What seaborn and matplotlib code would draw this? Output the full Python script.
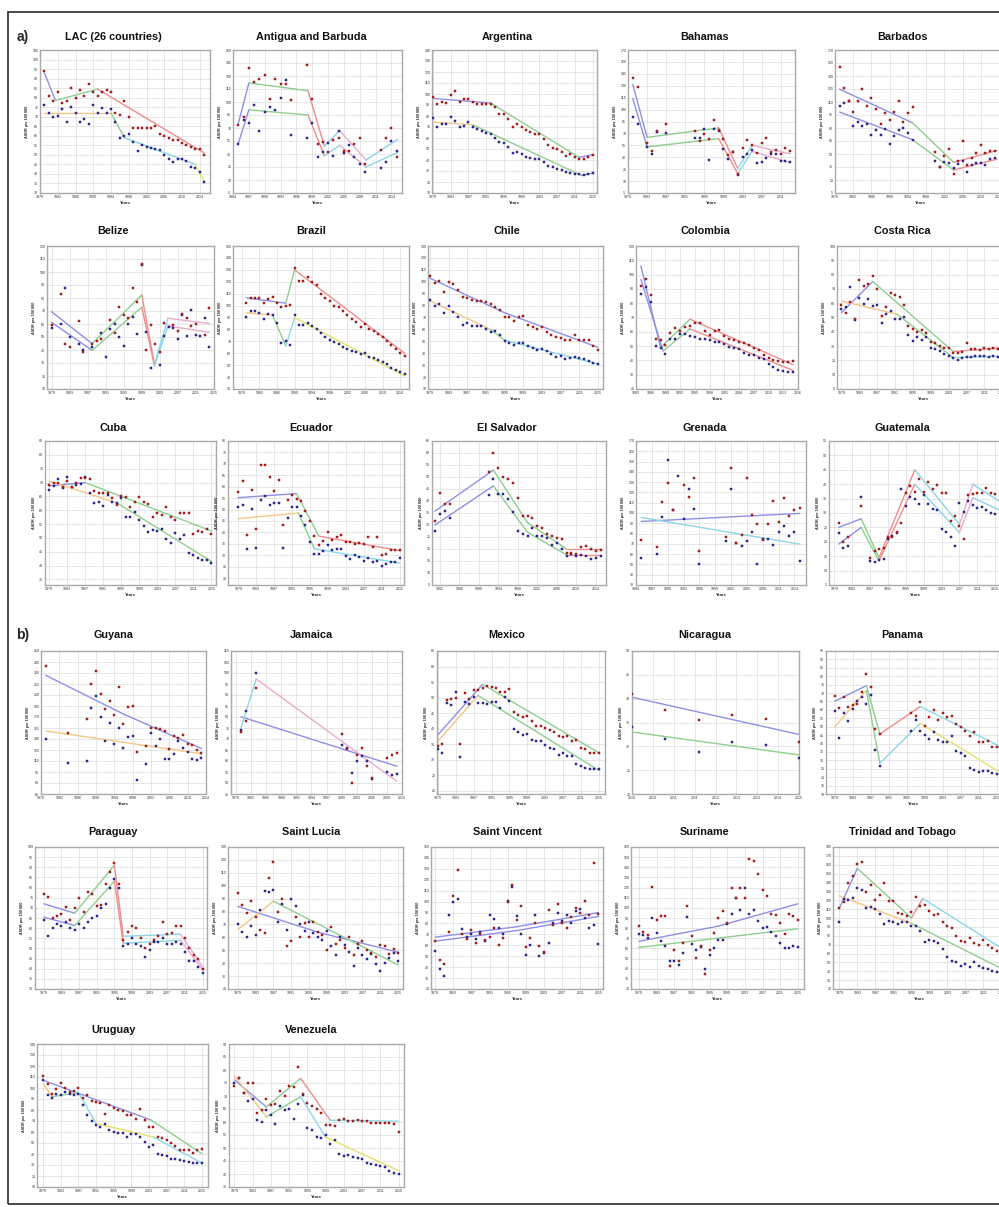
import numpy as np
import matplotlib
matplotlib.use("Agg")
import matplotlib.pyplot as plt
import seaborn as sns
from matplotlib.patches import Rectangle

sns.set_theme(style="whitegrid")
plt.rcParams['font.family'] = ['Liberation Sans', 'DejaVu Sans']

# joinpoint segment colours and point colours
SEG = {'b': '#8f8fe6', 'g': '#8dcf8d', 'r': '#f08c8c', 'c': '#8bd6e8',
       'p': '#e9abcd', 'o': '#f5c585', 'y': '#e6e06a'}
RED_PT, RED_EDGE = '#d01f1c', '#760d0d'
BLUE_PT, BLUE_EDGE = '#3a31b3', '#1b146c'

Y79 = list(range(1979, 2016))

# ---------------- a) ----------------
lac_m = [94, 81, 78, 83, 77, 78, 85, 80, 84, 81, 87, 83, 81, 83, 84, 83, 72, 71, 78, 70,
         64, 64, 64, 64, 64, 65, 61, 60, 59, 58, 58, 56, 55, 54, 53, 53, 50]
lac_f = [76, 72, 70, 70.5, 74, 67.5, 75, 72, 67, 69, 66, 76, 72, 74.5, 72, 74, 67, 59, 60, 61,
         57, 52, 55, 54, 53.5, 53, 52.5, 50, 48, 46, 48, 48, 47, 43.5, 43, 41, 36]
lac_m_fit = [(1979, 93), (1981.5, 78.5), (1991, 84.5), (2015, 51)]
lac_f_fit = [(1979, 72), (1994, 72), (1997, 59), (2013, 45), (2015, 36)]

ant_yr = [1985, 1986, 1987, 1988, 1989, 1990, 1991, 1992, 1993, 1994, 1995, 1998, 1999, 2000,
          2001, 2002, 2003, 2004, 2005, 2006, 2007, 2008, 2009, 2012, 2013, 2014, 2015]
ant_m = [74, 83, 139, 123, 126, 131, 103, 126, 121, 121, 102, 143, 103, 52, 54, 42, 56, 59, 43,
         43, 51, 59, 28, 45, 58, 70, 36]
ant_f = [51, 79, 76, 97, 67, 88, 94, 91, 105, 125, 62, 59, 76, 36, 42, 53, 38, 67, 41, 50, 36,
         28, 19, 24, 31, 55, 43]
ant_m_fit = [(1985, 75), (1987, 122), (1998.2, 113), (2001.3, 49), (2004.2, 67), (2009.2, 33), (2015.2, 57)]
ant_f_fit = [(1985, 52), (1987, 91), (1998.2, 85), (2001.3, 38), (2004.2, 50), (2009.2, 25), (2015.2, 42)]

arg_m = [97.6, 90.9, 92.7, 91.5, 98.8, 103, 92.4, 95.8, 95.5, 92.4, 91.2, 91.2, 90.9, 90.6, 88.2,
         81.8, 81.8, 77.3, 70.3, 72.7, 70.3, 67, 65.2, 63.6, 63.6, 58.8, 53.6, 50.6, 49.7, 47,
         43.9, 45.5, 42.4, 41.2, 41.2, 42.4, 44.8]
arg_f = [77.9, 69.7, 73, 72.7, 78.8, 75.2, 70.3, 70.9, 74.5, 69.7, 67.9, 66.7, 64.2, 63.3, 59.7,
         56.1, 55.5, 51.5, 46.4, 47, 45.2, 43, 42.1, 40.6, 40.6, 38.2, 34.8, 33.6, 31.8, 30.6,
         29.4, 28.5, 27.3, 27, 26.4, 27.6, 27.9]
arg_m_fit = [(1979, 96), (1992, 91.8), (2012, 42.4), (2015, 44.8)]
arg_f_fit = [(1979, 74.5), (1988, 72), (2012.5, 26), (2015, 28)]

bah_yr = [1980, 1981, 1983, 1984, 1985, 1987, 1993, 1994, 1995, 1996, 1997, 1998, 1999, 2000,
          2001, 2002, 2003, 2004, 2005, 2006, 2007, 2008, 2009, 2010, 2011, 2012, 2013]
bah_m = [139.7, 128, 57.4, 48, 73, 82, 72.6, 60, 68.8, 63, 86.6, 74, 63, 42.3, 46.5, 19, 52,
         61.2, 55.3, 44.8, 58.3, 64.2, 46.5, 48.6, 44.4, 52, 47.3]
bah_f = [91.2, 81.5, 52.8, 44, 72, 70, 64.6, 64.2, 76, 36.8, 75.6, 73, 50.7, 37.6, 46, 18.2,
         39.7, 44.4, 49.4, 32.6, 33.8, 39.3, 44.4, 44.4, 34.7, 35.5, 33.8]
bah_m_fit = [(1980, 131.7), (1983, 65), (1998, 77), (2002, 25.8), (2005, 55), (2013, 44.4)]
bah_f_fit = [(1980, 114), (1983, 53), (1998, 63.4), (2002, 19.5), (2005, 47.3), (2013, 33.4)]

bar_yr = list(range(1979, 1996)) + list(range(2000, 2014))
bar_m = [150, 125.6, 111, 99, 111, 124.8, 105.4, 115, 101.5, 85, 96.8, 89, 98.8, 111, 87.5, 97.6,
         104.6, 52.5, 35.4, 47.8, 56, 27.2, 42.4, 64.5, 37.3, 45, 51, 60, 51.7, 53.6, 54]
bar_f = [105.4, 109.3, 111.6, 82, 87, 82, 85, 71.5, 77.4, 71.5, 78.5, 61.8, 71, 77.4, 80, 74.6,
         66.5, 42, 35.4, 40.4, 40, 33.4, 38, 42, 29.5, 37, 40, 40, 37.7, 44, 45]
bar_m_fit = [(1979, 124.8), (1995, 86), (2004, 40.4), (2013.5, 54)]
bar_f_fit = [(1979, 98.4), (1995, 66.5), (2004, 31.5), (2013.5, 44)]

bel_m_yr = [1979, 1981, 1982, 1983, 1985, 1986, 1988, 1989, 1990, 1992, 1993, 1994, 1995, 1996,
            1997, 1998, 1999, 2000, 2001, 2002, 2003, 2004, 2006, 2007, 2008, 2009, 2010, 2011,
            2013, 2014]
bel_m = [59, 82.8, 44.4, 42, 62, 38.7, 45, 47, 48.5, 62.8, 53.1, 72.8, 66.9, 64.9, 88, 76.9,
         106.4, 40, 59.2, 44.9, 38.7, 60.8, 59, 54.9, 67.4, 64.4, 58.2, 60, 51.5, 72]
bel_f_yr = [1979, 1981, 1982, 1983, 1985, 1986, 1988, 1990, 1991, 1992, 1993, 1994, 1995, 1996,
            1997, 1998, 1999, 2000, 2001, 2003, 2004, 2005, 2006, 2007, 2008, 2009, 2010, 2011,
            2012, 2013, 2014]
bel_f = [57.2, 60.3, 87.7, 50, 44.9, 39.7, 42, 53.3, 34.4, 56.4, 59.7, 50.3, 43.3, 60.3, 65.6,
         52, 105.4, 53.8, 26.2, 28.2, 50.5, 58, 57.2, 48.7, 67, 50.8, 70.5, 51.5, 50.8, 64.9, 42.6]
bel_m_fit = [(1979, 69.5), (1988, 44.9), (1999, 82.3), (2001.8, 29), (2004.8, 64.4), (2014, 60.3)]
bel_f_fit = [(1979, 61.3), (1988, 39.7), (1999, 73), (2001.8, 27.7), (2004.8, 58.5), (2014, 53.6)]

bra_m = [101.8, 106.6, 106.6, 106.6, 102.1, 105.8, 107.2, 102, 98.7, 100, 100.4, 131.7, 120.7,
         121, 123.8, 119.6, 117, 109.7, 106.3, 104, 99.6, 98.5, 95.6, 91.7, 88.9, 86.6, 82.4,
         84.4, 80.7, 79, 75.9, 74, 70.6, 66.9, 63.2, 59.9, 57.9]
bra_f = [90.6, 95.6, 95.6, 93.7, 88.6, 92.8, 92.3, 85.8, 68.3, 70.3, 66.9, 92.3, 84, 84, 85.8,
         83.2, 80.4, 76.8, 74, 71.1, 69.4, 67.7, 65.5, 63.5, 62.1, 61.3, 59, 59.9, 57, 55.6,
         54.5, 52.8, 50.8, 48, 45.8, 44.4, 42.4]
bra_m_fit = [(1979, 106.5), (1988, 102), (1990, 130), (2015, 60)]
bra_f_fit = [(1979, 94), (1985, 92), (1988, 66), (1990, 90), (2015, 41)]

chi_m = [105, 99, 101, 91, 100, 98, 93, 87, 86, 85, 84, 84, 83, 81, 79, 76, 70, 70, 67, 70.5,
         71.6, 64, 62, 60.6, 62, 57.5, 55, 53.4, 53, 51.5, 51.5, 55, 51, 50.7, 50.7, 46, 43]
chi_f = [85, 80, 81, 74, 80, 75, 70.5, 64, 65.5, 63, 62.5, 63, 60, 58, 58.4, 55, 50, 49, 47,
         48.5, 48.5, 45.7, 44, 42.7, 43.8, 41.6, 39.6, 37.2, 38, 35.2, 36.1, 37.2, 35.8, 35,
         33.6, 31.4, 30.6]
chi_m_fit = [(1979, 103), (1995, 74), (2015, 45)]
chi_f_fit = [(1979, 84), (1992, 60), (1995, 51), (2015, 31)]

col_yr = list(range(1984, 2016))
col_m = [92, 97, 86, 55, 54, 50.7, 59.5, 62.8, 60.7, 63.3, 64.2, 66, 66, 60.7, 58, 60.9, 61.4,
         57.2, 54.9, 54.4, 52.6, 51.9, 51, 48.7, 47, 43.7, 41.6, 40.2, 39.3, 39, 38.6, 39.3]
col_f = [86.3, 91.6, 80.5, 50.2, 48.6, 44.2, 55.3, 55.3, 58.7, 58.2, 56.8, 56.1, 55.2, 54.7, 54,
         52.6, 52.9, 51.7, 49.4, 49, 48.2, 45.2, 44, 44, 41.7, 41.3, 37.5, 35.4, 33.1, 32.4, 32, 32]
col_m_fit = [(1984, 106), (1988, 49), (1994, 68.8), (2015, 37)]
col_f_fit = [(1984, 96.7), (1988.5, 46.5), (1994, 62), (2015, 33)]

cri_m = [59, 53, 61, 49, 76, 72, 73.5, 79, 70, 51, 57, 67, 65.5, 64.5, 59, 44, 42, 40, 41.5, 39,
         33, 32, 30, 29, 28.5, 25.5, 25.5, 26, 32, 28, 28, 27, 28.5, 28, 29, 28, 28]
cri_f = [55.8, 57.4, 71.2, 48.5, 63.4, 59.3, 63.1, 57.9, 58.6, 46.3, 52.7, 54.4, 49.2, 48.7,
         50.1, 38, 33.8, 36.2, 34.5, 36.2, 28.6, 27.9, 26.7, 24.4, 23.2, 21.5, 20.3, 22, 22.5,
         22.7, 23.4, 23.2, 22.9, 22.5, 23, 22.5, 22]
cri_m_fit = [(1979, 53.4), (1986, 75.2), (2004, 26.2), (2016, 29)]
cri_f_fit = [(1979, 61.5), (1991.5, 52.2), (2004, 22), (2016, 23)]

cub_m = [69.1, 69.7, 69.7, 68.5, 70.5, 68.3, 70, 71.7, 71.5, 71.1, 66.9, 66.1, 66.3, 66.3, 64.3,
         61.9, 65.1, 64.9, 61, 62.8, 64.9, 63, 62.2, 57.5, 59, 58.1, 61.3, 57.5, 56.3, 58.9,
         58.9, 58.9, 51.3, 52.6, 52.3, 53.1, 51.4]
cub_f = [67.3, 68.7, 71.1, 67.9, 72.1, 68.5, 69.1, 69.3, 72.1, 66.1, 62.5, 63.1, 61.5, 65.5,
         63.1, 62.7, 64.3, 57.6, 57.6, 59.5, 56.4, 54.3, 52, 52.8, 52.6, 53.4, 49.5, 48, 51.6,
         49.5, 51, 44.4, 43.8, 42.6, 42.2, 42, 41]
cub_m_fit = [(1979, 68.8), (1987, 70), (2015, 52.5)]
cub_f_fit = [(1979, 70.5), (1994, 62.7), (2015, 41.5)]

ecu_m = [57.7, 62.3, 39, 58.4, 41.6, 69.3, 69.6, 64.2, 58.1, 63.1, 43.4, 54.3, 56.2, 54.7, 53.6,
         49.2, 45, 38.4, 34.3, 36.2, 40.4, 36.9, 38.1, 39, 35.8, 35.8, 35, 35.3, 35, 37.9, 33.6,
         37.9, 30.2, 30.7, 32.1, 32.1, 32.4]
ecu_f = [51.1, 51.8, 32.8, 50.4, 33.3, 54, 56.1, 52.1, 52.8, 53, 33.1, 46.3, 51.1, 51.1, 47.3,
         43.4, 35.8, 30.7, 30.7, 31.8, 34.3, 32.1, 32.6, 32.6, 29.8, 28.5, 30.2, 29.2, 27.4,
         28.9, 26.9, 27.7, 25.5, 26.3, 27, 27, 28.8]
ecu_m_fit = [(1979, 55.2), (1992, 57), (1997, 38.4), (2015, 32)]
ecu_f_fit = [(1979, 46), (1992.4, 48.5), (1996, 32.8), (2015, 26.6)]

slv_yr = [1981, 1982, 1983, 1984] + list(range(1992, 2016))
slv_m = [31.7, 43.5, 38.6, 38.9, 52.2, 59.9, 53.9, 50, 49, 47.6, 41.4, 33.6, 33.6, 32.9, 29.6,
         28.6, 26.1, 25.4, 24.6, 24.3, 18.5, 18.2, 17.8, 20.9, 21.3, 19.9, 19.2, 19.4]
slv_f = [27.5, 34.4, 35.8, 32.8, 42.4, 49, 42.8, 42.8, 41, 35.4, 27.5, 26.1, 25.4, 28.9, 25.4,
         25.4, 24.7, 21.5, 22.4, 19.9, 17.1, 17.8, 17.1, 17.4, 17.1, 15.7, 16.4, 17.1]
slv_m_fit = [(1981, 35.8), (1993, 52.9), (2000, 31), (2008, 20), (2015, 20)]
slv_f_fit = [(1981, 30), (1993, 46.3), (2000, 27), (2008, 17.5), (2015, 17.5)]

grd_m_yr = [1985, 1988, 1989, 1990, 1991, 1993, 1994, 1995, 1996, 2001, 2002, 2003, 2004, 2005,
            2006, 2007, 2008, 2009, 2010, 2011, 2012, 2013, 2014, 2015]
grd_m = [73.6, 67.1, 111, 129.3, 102.9, 127.7, 115.9, 134.2, 63.2, 76.2, 144, 71.3, 78.8, 134.2,
         98.3, 89.2, 73.6, 89.2, 112, 90.8, 114.6, 96.7, 103.2, 104.9]
grd_f_yr = [1985, 1988, 1989, 1990, 1991, 1992, 1993, 1994, 1995, 1996, 2001, 2002, 2003, 2004,
            2005, 2006, 2007, 2008, 2009, 2010, 2011, 2012, 2013, 2014, 2015]
grd_f = [56.6, 60.6, 95.7, 151.1, 102.9, 135.5, 94.1, 123.4, 103.9, 50.8, 72.3, 123.4, 71.3, 68,
         72.9, 81.7, 50.1, 74.6, 74.6, 69, 82, 87.3, 77.5, 81.1, 53.4]
grd_m_fit = [(1985, 91.8), (2015, 99.6)]
grd_f_fit = [(1985, 95.7), (2015, 69.7)]

gua_yr = [1980, 1981, 1982, 1985] + list(range(1987, 2016))
gua_m = [26.4, 20, 21.8, 32.5, 14.5, 16.8, 17.4, 17.7, 21.5, 21.5, 23.4, 26.4, 37.1, 39.4, 37.3,
         41.7, 37.3, 40.8, 38.2, 39.6, 36.9, 36.9, 27.3, 29, 25.5, 21.1, 36.2, 36.7, 37.1, 36.9,
         38.8, 37, 36.5]
gua_f = [22.9, 17.7, 18.6, 35.6, 13.4, 13, 13.7, 14, 21.1, 22, 22.9, 38.2, 32.5, 35.7, 34.8, 33,
         36.2, 33.2, 31.3, 31.1, 24.6, 23.4, 21.5, 18.6, 33.4, 30.5, 34.2, 32.7, 31.9, 32, 31,
         30, 29.5]
gua_m_fit = [(1980, 25), (1985, 28), (1989, 14.5), (1997, 45), (2007, 26), (2010, 40), (2016, 34)]
gua_f_fit = [(1980, 19.2), (1985, 25), (1989, 13.4), (1997, 40), (2007, 23.2), (2010, 35.3), (2016, 31)]

# ---------------- b) ----------------
guy_yr = [1979, 1984, 1988, 1989, 1990, 1991, 1992, 1993, 1994, 1995, 1996, 1997, 1998, 1999,
          2001, 2002, 2003, 2004, 2005, 2006, 2007, 2008, 2009, 2010, 2011, 2012, 2013]
guy_m = [240, 148.6, 166.8, 214.5, 232.3, 201.4, 181.4, 192.3, 173.2, 210.9, 160.9, 183.6, 184.5,
         121.8, 130.9, 155.5, 155.5, 154.1, 150.9, 125.9, 143.6, 140.9, 145, 132.7, 131.4, 125.5, 121]
guy_f = [139.5, 107.3, 110.5, 182.3, 198.6, 170.5, 136.8, 162.3, 133.2, 155, 127.7, 142.3, 144.1,
         84.5, 105.5, 147.7, 130.5, 140.5, 113.2, 112.3, 120, 137.3, 127.7, 122.7, 112.3, 110.9, 114.5]
guy_m_fit = [(1979, 227), (1996, 174), (2013, 127)]
guy_f_fit = [(1979, 151), (2013, 120)]

jam_yr = [1980, 1981, 1983, 2000, 2001, 2002, 2003, 2004, 2005, 2006, 2009, 2010, 2011]
jam_m = [73.2, 78.1, 93, 72.2, 65.3, 50, 62.8, 65.9, 57.9, 52.3, 61.5, 62.8, 63.8]
jam_f = [74.3, 82.9, 100, 67.1, 66, 54.4, 59.9, 62.5, 59.9, 51.8, 54.9, 53.8, 54.1]
jam_m_fit = [(1980, 80.1), (2011, 57.6)]
jam_f_fit = [(1980, 75.2), (1983, 97.3), (2011, 50.7)]

mex_m = [34.5, 35, 49.2, 49.5, 50, 35.2, 51.6, 49.5, 52.6, 52.6, 53.2, 53.7, 53.5, 53, 51.8,
         51.8, 52.9, 45.5, 44.4, 43.9, 44.1, 42.5, 40.9, 40.9, 40.3, 39.6, 39, 37.8, 37.4, 37.6,
         36.2, 36.3, 33.8, 33.6, 32.1, 32.1, 32.1]
mex_f = [33.4, 32.1, 48.4, 47.6, 51.9, 31, 48.7, 47.9, 50.2, 48.4, 48.2, 48.1, 48.5, 48.5, 46.8,
         50.2, 48.9, 39.8, 39, 38, 38.2, 36.4, 35.9, 35.9, 34.8, 33.7, 33.4, 31.5, 32.1, 31.2,
         31.2, 28.8, 28, 27.5, 27.2, 27, 27]
mex_m_fit = [(1979, 38), (1989, 54.3), (2015, 32.3)]
mex_f_fit = [(1979, 36), (1988, 50.7), (2015, 26.6)]

nic_yr = [2010, 2011, 2012, 2013, 2014, 2015]
nic_m = [41, 37.7, 35.5, 36.6, 35.8, 31]
nic_f = [34, 31.5, 28.9, 31, 30.3, 27.5]
nic_m_fit = [(2010, 40.3), (2015, 32.5)]
nic_f_fit = [(2010, 33), (2015, 28.2)]

pan_yr = list(range(1979, 1990)) + list(range(1996, 2016))
pan_m = [68.3, 61.1, 67.4, 61.9, 62.8, 63.4, 70.5, 81.3, 73.4, 48.9, 45.6, 58.1, 56.2, 64.6,
         50.3, 55.8, 60.1, 54.2, 58.1, 55.8, 56.2, 51.5, 49.9, 47.2, 44.6, 46.6, 40.7, 40.7,
         41.7, 38.1, 38.1]
pan_f = [59.1, 43, 58.1, 53.4, 60.3, 65.2, 67.9, 63.6, 68.9, 36.2, 26.4, 47.4, 53.8, 47.4, 45,
         42.6, 46.9, 42.1, 40.7, 40.7, 44.4, 35.8, 34.2, 32.3, 25.4, 24.4, 23, 23.4, 23.8, 22.5, 22]
pan_m_fit = [(1979, 65.2), (1986, 74.4), (1989, 45.6), (1998, 62), (2016, 38)]
pan_f_fit = [(1979, 50), (1986, 71.5), (1989, 28.3), (1998, 52), (2016, 22.5)]

par_m = [77, 75.5, 65, 66, 67, 70.5, 64, 70, 75, 68, 78, 77, 71, 71.5, 82, 87.5, 92, 82, 54, 58,
         61, 60, 55, 50, 52, 54, 56, 63, 57, 57.5, 61, 61, 55, 50, 47, 45, 40]
par_f = [64, 56, 60, 62, 61, 63, 60, 59, 62, 60, 63, 65, 66, 70, 72, 80, 84, 80, 51, 52, 55, 52,
         51, 46, 49, 53, 53, 55, 52, 52, 53, 52, 48, 44, 44, 41, 38]
par_m_fit = [(1979, 72), (1986, 67.4), (1995, 91), (1997, 56), (2010, 57), (2015, 41)]
par_f_fit = [(1979, 65.4), (1986, 61.3), (1995, 83.2), (1997, 52.5), (2010, 54), (2015, 39.5)]

slu_m = [94, 85, 79, 88, 76, 66, 63, 106, 118, 80, 90, 53, 57, 76, 60, 71, 60, 72, 64, 62, 50,
         68, 55, 58, 52, 60, 46, 55, 57, 50, 48, 45, 54, 53, 47, 51, 48]
slu_f = [70, 64, 60, 69, 62, 81, 96, 95, 97, 72, 86, 66, 90, 84, 70, 65, 72, 63, 60, 58, 65, 53,
         46, 60, 54, 49, 38, 52, 46, 43, 47, 39, 34, 40, 44, 48, 42]
slu_m_fit = [(1979, 84), (1997, 64), (2015, 48.5)]
slu_f_fit = [(1979, 66), (1987, 88), (2015, 38.7)]

svg_m = [64, 47, 43, 72, 105, 129, 70, 66, 74, 62, 70, 65, 68, 76, 60, 67, 100, 115, 83, 96, 58,
         67, 80, 59, 54, 92, 79, 98, 80, 76, 86, 94, 90, 101, 88, 135, 89]
svg_f = [55, 38, 32, 88, 100, 102, 75, 68, 70, 66, 72, 64, 88, 84, 76, 70, 101, 113, 87, 70, 51,
         60, 88, 50, 53, 62, 80, 90, 82, 88, 80, 91, 93, 85, 76, 79, 61]
svg_m_fit = [(1979, 67.4), (1997, 77), (2015, 90)]
svg_f_fit = [(1979, 63.8), (1997, 73.5), (2015, 86.4)]

sur_m = [82, 76, 73, 121, 88, 92, 92, 43, 58, 48, 65, 102, 72, 51, 62, 35, 58, 75, 90, 97, 85,
         120, 110, 120, 110, 148, 146, 133, 118, 112, 94, 93, 85, 74, 94, 92, 88]
sur_f = [74, 73, 70, 90, 75, 67, 62, 48, 48, 44, 55, 91, 64, 58, 61, 40, 54, 60, 68, 68, 84, 94,
         110, 98, 120, 94, 98, 87, 80, 81, 76, 72, 65, 60, 60, 62, 61]
sur_m_fit = [(1979, 67), (1997, 82), (2015, 104)]
sur_f_fit = [(1979, 61), (2015, 79.4)]

tto_m = [111, 118, 140, 147, 161, 163, 129, 137, 120, 126, 140, 119, 119, 106, 104, 102, 107,
         124, 114, 115, 108, 103, 105, 95, 91, 89, 80, 74, 73, 78, 72, 70, 75, 70, 66, 63, 60]
tto_f = [96, 121, 120, 123, 134, 131, 111, 112, 110, 105, 93, 97, 95, 93, 96, 95, 91, 91, 85, 73,
         75, 74, 72, 65, 56, 52, 50, 46, 48, 45, 50, 46, 44, 42, 40, 39, 37]
tto_m_fit = [(1979, 111), (1983, 156), (1995, 100), (1997.5, 122), (2015, 66)]
tto_f_fit = [(1979, 125), (1995, 94), (2015, 43)]

ury_m = [111, 104, 95, 99, 105, 100, 96, 97, 100, 91, 94, 88, 87, 86, 76, 85, 81.5, 80, 79, 75.5,
         75.5, 72, 80.5, 71, 65, 64.5, 55.5, 55, 52.5, 50, 47, 43.5, 43.5, 44, 41, 44, 45]
ury_f = [107, 94, 90.6, 94.6, 93.7, 96.7, 94.6, 93.7, 94.6, 85, 75.4, 70, 66, 64.7, 67, 61.6, 60,
         59, 59, 55.5, 58.6, 58.6, 55.5, 51, 46.4, 48, 40.3, 38.8, 38, 35.7, 35.7, 34.8, 33.6,
         32.7, 31.8, 31.8, 32]
ury_m_fit = [(1979, 107), (2003.5, 70.8), (2015, 40.3)]
ury_f_fit = [(1979, 104), (1981, 92), (1987, 96), (1991, 67.7), (2004, 55.5), (2015, 31.8)]

ven_m = [74, 77, 71, 75, 75, 63.5, 64.5, 69, 66.5, 67, 72, 70, 74, 73.5, 81.3, 70.8, 67.5, 66, 65,
         63.5, 58.7, 59, 58.3, 60.7, 61.3, 60.4, 60.3, 60.7, 60.3, 60.3, 59.5, 59.6, 59.8, 59.5,
         59.7, 59.4, 56]
ven_f = [75, 77, 71, 68, 69, 60.7, 60, 64.5, 62.6, 59.4, 66, 64.5, 65, 61, 67, 70.4, 57.8, 56.8,
         54.2, 53.8, 54.9, 51.4, 52.9, 47.8, 47.1, 47.4, 46.7, 46.1, 45.6, 44.1, 43.9, 43.6, 43.2,
         42.8, 41.3, 40.3, 40]
ven_m_fit = [(1979, 76.2), (1986, 65.8), (1993.5, 76.8), (2000, 60.7), (2015, 60.3)]
ven_f_fit = [(1979, 77.7), (1986, 62), (1993.5, 69.7), (1999, 54.2), (2015, 41.3)]


def panel(title, myr, m, fyr, f, mfit, mcol, ffit, fcol, xlim, xt, ylim, yt):
    return dict(title=title, myr=myr, m=m, fyr=fyr, f=f, mfit=mfit, mcol=mcol,
                ffit=ffit, fcol=fcol, xlim=xlim, xt=xt, ylim=ylim, yt=yt)


rows = [
    [panel("LAC (26 countries)", Y79, lac_m, Y79, lac_f, lac_m_fit, "bgr", lac_f_fit, "ogcy",
           (1978, 2016.3), (1978, 4), (30, 105), (30, 5)),
     panel("Antigua and Barbuda", ant_yr, ant_m, ant_yr, ant_f, ant_m_fit, "bgrcpc", ant_f_fit, "bgrcpc",
           (1984, 2016), (1984, 3), (-5, 160), (-5, 15)),
     panel("Argentina", Y79, arg_m, Y79, arg_f, arg_m_fit, "bgb", arg_f_fit, "ogb",
           (1978.8, 2016), (1979, 4), (10, 140), (10, 10)),
     panel("Bahamas", bah_yr, bah_m, bah_yr, bah_f, bah_m_fit, "bgrcp", bah_f_fit, "bgrcp",
           (1979, 2014), (1979, 4), (-5, 175), (-5, 15)),
     panel("Barbados", bar_yr, bar_m, bar_yr, bar_f, bar_m_fit, "bgr", bar_f_fit, "bgr",
           (1978.2, 2015.5), (1978, 4), (5, 170), (5, 15))],
    [panel("Belize", bel_m_yr, bel_m, bel_f_yr, bel_f, bel_m_fit, "bgrcp", bel_f_fit, "bgrcp",
           (1978, 2015), (1979, 4), (10, 120), (10, 10)),
     panel("Brazil", Y79, bra_m, Y79, bra_f, bra_m_fit, "bgr", bra_f_fit, "ogcy",
           (1976, 2016), (1978, 4), (30, 150), (30, 10)),
     panel("Chile", Y79, chi_m, Y79, chi_f, chi_m_fit, "bb", chi_f_fit, "ogc",
           (1978.6, 2016.1), (1979, 4), (10, 130), (10, 10)),
     panel("Colombia", col_yr, col_m, col_yr, col_f, col_m_fit, "bgr", col_f_fit, "bgr",
           (1983, 2016), (1983, 3), (20, 120), (20, 10)),
     panel("Costa Rica", Y79, cri_m, Y79, cri_f, cri_m_fit, "bgr", cri_f_fit, "ogc",
           (1978, 2016.5), (1979, 4), (0, 100), (0, 10))],
    [panel("Cuba", Y79, cub_m, Y79, cub_f, cub_m_fit, "bg", cub_f_fit, "og",
           (1978.1, 2016), (1979, 4), (33, 85), (35, 5)),
     panel("Ecuador", Y79, ecu_m, Y79, ecu_f, ecu_m_fit, "bgr", ecu_f_fit, "ogc",
           (1976.7, 2016), (1979, 4), (17, 80), (20, 5)),
     panel("El Salvador", slv_yr, slv_m, slv_yr, slv_f, slv_m_fit, "bggr", slv_f_fit, "bggr",
           (1980.4, 2016.1), (1982, 4), (5, 65), (5, 5)),
     panel("Grenada", grd_m_yr, grd_m, grd_f_yr, grd_f, grd_m_fit, "b", grd_f_fit, "c",
           (1984, 2016.2), (1984, 3), (30, 170), (30, 10)),
     panel("Guatemala", gua_yr, gua_m, gua_yr, gua_f, gua_m_fit, "bgrcpc", gua_f_fit, "bgrcpc",
           (1977.8, 2016.3), (1979, 4), (5, 55), (5, 5))],
    [panel("Guyana", guy_yr, guy_m, guy_yr, guy_f, guy_m_fit, "bb", guy_f_fit, "o",
           (1978, 2014), (1978, 4), (65, 260), (65, 15)),
     panel("Jamaica", jam_yr, jam_m, jam_yr, jam_f, jam_m_fit, "b", jam_f_fit, "cp",
           (1978, 2012), (1979, 3), (45, 110), (45, 5)),
     panel("Mexico", Y79, mex_m, Y79, mex_f, mex_m_fit, "bg", mex_f_fit, "og",
           (1978.8, 2016.4), (1979, 4), (19, 65), (20, 5)),
     panel("Nicaragua", nic_yr, nic_m, nic_yr, nic_f, nic_m_fit, "b", nic_f_fit, "g",
           (2010, 2015), None, (20, 50), (20, 5)),
     panel("Panama", pan_yr, pan_m, pan_yr, pan_f, pan_m_fit, "bgrc", pan_f_fit, "ogcy",
           (1977, 2016), (1979, 4), (10, 95), (10, 5))],
    [panel("Paraguay", Y79, par_m, Y79, par_f, par_m_fit, "bgrcp", par_f_fit, "bgrcp",
           (1977, 2016), (1979, 4), (30, 100), (30, 5)),
     panel("Saint Lucia", Y79, slu_m, Y79, slu_f, slu_m_fit, "bb", slu_f_fit, "og",
           (1976.8, 2016.1), (1979, 4), (20, 130), (20, 10)),
     panel("Saint Vincent", Y79, svg_m, Y79, svg_f, svg_m_fit, "bb", svg_f_fit, "bb",
           (1978.1, 2016), (1979, 4), (20, 150), (20, 10)),
     panel("Suriname", Y79, sur_m, Y79, sur_f, sur_m_fit, "bb", sur_f_fit, "g",
           (1977.2, 2016.4), (1979, 4), (20, 160), (20, 10)),
     panel("Trinidad and Tobago", Y79, tto_m, Y79, tto_f, tto_m_fit, "bgrc", tto_f_fit, "og",
           (1977.6, 2016), (1979, 4), (20, 180), (20, 10))],
    [panel("Uruguay", Y79, ury_m, Y79, ury_f, ury_m_fit, "bg", ury_f_fit, "ogcyc",
           (1977.6, 2016.4), (1979, 4), (10, 140), (10, 10)),
     panel("Venezuela", Y79, ven_m, Y79, ven_f, ven_m_fit, "bgrc", ven_f_fit, "ogcy",
           (1977.8, 2016.2), (1979, 4), (35, 90), (35, 5))],
]

# layout in pixels
W, H = 999, 1207
ROW_TB = [(50, 193), (246, 389), (441, 585), (651, 794), (847, 989), (1044, 1187)]
ROW_TITLE_Y = [37, 231, 428, 635, 832, 1030]
COLS = [
    [(40, 210), (233, 402), (432, 597), (628, 795), (835, 1006)],
    [(47, 214), (233, 409), (428, 603), (636, 798), (837, 1009)],
    [(45, 216), (228, 404), (432, 606), (636, 806), (829, 1001)],
    [(41, 206), (231, 402), (437, 605), (632, 799), (826, 1001)],
    [(35, 207), (228, 403), (431, 603), (631, 804), (833, 1006)],
    [(37, 208), (229, 404)],
]
TITLE_X = [113, 311, 507, 705, 902]

fig = plt.figure(figsize=(W / 100, H / 100), dpi=100)


def draw(ax, p):
    for fit, cols in ((p['mfit'], p['mcol']), (p['ffit'], p['fcol'])):
        for (x0, y0), (x1, y1), c in zip(fit[:-1], fit[1:], cols):
            sns.lineplot(x=[x0, x1], y=[y0, y1], color=SEG[c], linewidth=1.0, ax=ax,
                         estimator=None, sort=False)
    sns.scatterplot(x=p['fyr'], y=p['f'], marker='s', s=4.5, color=BLUE_PT,
                    edgecolor=BLUE_EDGE, linewidth=0.3, ax=ax, legend=False, zorder=4)
    sns.scatterplot(x=p['myr'], y=p['m'], marker='s', s=4.5, color=RED_PT,
                    edgecolor=RED_EDGE, linewidth=0.3, ax=ax, legend=False, zorder=4)

    ax.set_xlim(*p['xlim'])
    ax.set_ylim(*p['ylim'])
    if p['xt'] is None:
        xt = np.linspace(p['xlim'][0], p['xlim'][1], 9)
    else:
        xt = np.arange(p['xt'][0], p['xlim'][1] + 0.01, p['xt'][1])
    ax.set_xticks(xt)
    ax.set_xticklabels([str(int(v)) for v in xt])
    yt = np.arange(p['yt'][0], p['ylim'][1] + 0.01, p['yt'][1])
    ax.set_yticks(yt)
    ax.set_yticklabels([f"{v:g}" for v in yt])
    ax.tick_params(labelsize=2.6, length=0, pad=1.2, colors='#333333')
    ax.grid(True, color='#dcdcdc', linewidth=0.5)
    ax.set_facecolor('white')
    for s in ax.spines.values():
        s.set_color('#a9a9a9')
        s.set_linewidth(1.0)
    ax.set_xlabel("Years", fontsize=3, fontweight='bold', labelpad=1.5)
    ax.set_ylabel("ASDR per 100 000", fontsize=2.7, fontweight='bold', labelpad=2.5)


for r, row in enumerate(rows):
    top, bot = ROW_TB[r]
    for c, p in enumerate(row):
        left, right = COLS[r][c]
        ax = fig.add_axes([left / W, 1 - bot / H, (right - left) / W, (bot - top) / H])
        draw(ax, p)
        fig.text(TITLE_X[c] / W, 1 - ROW_TITLE_Y[r] / H, p['title'], ha='center', va='center',
                 fontsize=7.8, fontweight='bold', color='#111111')

fig.text(23 / W, 1 - 37 / H, "a)", ha='center', va='center', fontsize=10, fontweight='bold')
fig.text(23 / W, 1 - 635 / H, "b)", ha='center', va='center', fontsize=10, fontweight='bold')

# outer frame
fig.patches.append(Rectangle((8 / W, 1 - 1204 / H), (1010 - 8) / W, (1204 - 12) / H,
                             transform=fig.transFigure, fill=False, edgecolor='#3a3a3a',
                             linewidth=1.3))

fig.savefig("out.png", dpi=100)
